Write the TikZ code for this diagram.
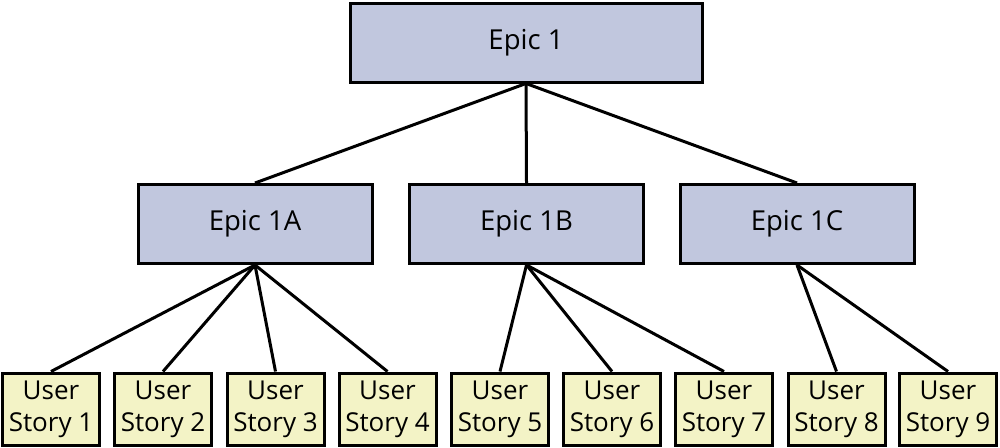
\documentclass[tikz,border=0pt]{standalone}
\usepackage{fontspec}
\setmainfont{Open Sans}
\usetikzlibrary{positioning}

\definecolor{epicfill}{HTML}{C1C7DE}
\definecolor{storyfill}{HTML}{F3F3C6}

\tikzset{
	epic/.style = {draw, line width = 3pt, fill = epicfill, font = \fontsize{27.5}{30}\selectfont,
		minimum height = 79pt, inner sep = 0pt},
	story/.style = {draw, line width = 3pt, fill = storyfill, font = \fontsize{26}{32}\selectfont,
		minimum width = 97pt, minimum height = 72pt, inner sep = 0pt, align = center},
	link/.style = {line width = 3pt}
}

\begin{document}
\begin{tikzpicture}[x = 1pt, y = -1pt]
\useasboundingbox (0, 0) rectangle (1000, 447);

\node[epic, minimum width = 352pt] (e1) at (526, 42.5) {Epic 1};
\node[epic, minimum width = 234pt] (e1a) at (255, 224) {Epic 1A};
\node[epic, minimum width = 234pt] (e1b) at (526.5, 224) {Epic 1B};
\node[epic, minimum width = 234pt] (e1c) at (797, 224) {Epic 1C};

\foreach \n/\x in {1/51, 2/163, 3/275.5, 4/387.5, 5/500, 6/612, 7/724, 8/836.5, 9/948}
	\node[story] (s\n) at (\x, 409) {User\\Story \n};

\foreach \c in {e1a, e1b, e1c}
	\draw[link] (e1.south) -- (\c.north);
\foreach \s in {1, 2, 3, 4}
	\draw[link] (e1a.south) -- (s\s.north);
\foreach \s in {5, 6, 7}
	\draw[link] (e1b.south) -- (s\s.north);
\foreach \s in {8, 9}
	\draw[link] (e1c.south) -- (s\s.north);
\end{tikzpicture}
\end{document}
